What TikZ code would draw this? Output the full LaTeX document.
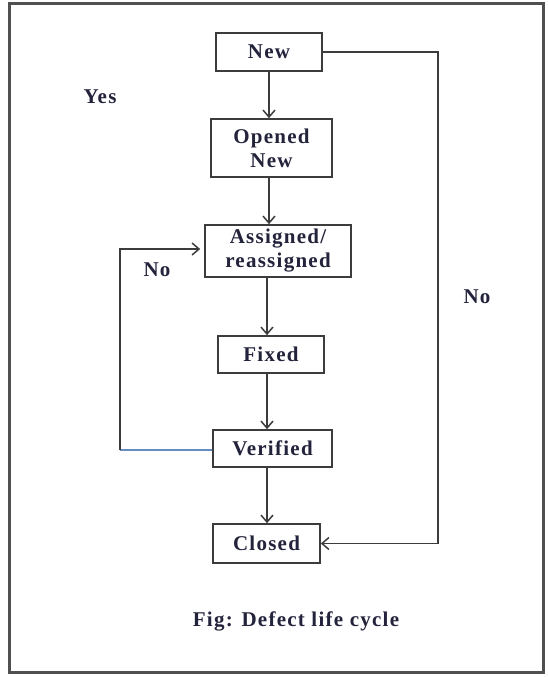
\documentclass[tikz,border=0pt]{standalone}
\usepackage{fontspec}
\setmainfont{Liberation Serif}
\newfontfamily\cyclefont[LetterSpace=6]{Liberation Serif}
\usepackage{tikz}
\usetikzlibrary{calc,positioning,arrows.meta}
\definecolor{framegray}{RGB}{80,80,80}
\definecolor{linegray}{RGB}{60,60,60}
\definecolor{loopblue}{RGB}{100,140,190}
\definecolor{labelnavy}{RGB}{35,35,60}

\tikzset{
  stage/.style={draw=linegray, line width=1.6pt, fill=white, align=center,
    font=\cyclefont\bfseries\fontsize{21}{24}\selectfont, text=labelnavy, inner sep=0pt},
  flow/.style={draw=linegray, line width=1.5pt, -{Straight Barb[length=7pt,width=12pt]}},
  tag/.style={font=\cyclefont\bfseries\fontsize{21}{24}\selectfont, text=labelnavy}
}

\begin{document}
\begin{tikzpicture}[x=1pt,y=-1pt]
    \useasboundingbox (0,0) rectangle (547,677);
    % Draw outer frame
    \draw[line width=3pt, framegray] (9,4) rectangle (543,672);

    % Draw stages
    \node[stage, minimum width=106pt, minimum height=38pt] (new) at (269,52) {New};
    \node[stage, minimum width=121pt, minimum height=58pt] (opened) at (271.5,148) {Opened\\New};
    \node[stage, minimum width=146pt, minimum height=52pt] (assigned) at (278,251) {Assigned/\\reassigned};
    \node[stage, minimum width=106pt, minimum height=37pt] (fixed) at (271,354.5) {Fixed};
    \node[stage, minimum width=119pt, minimum height=37pt] (verified) at (272.5,448.5) {Verified};
    \node[stage, minimum width=107pt, minimum height=39pt] (closed) at (266.5,543.5) {Closed};

    % Draw labels
    \node[tag] (yes) at (100,97) {Yes};
    \node[tag] (noleft) at (157,270) {No};
    \node[tag] (noright) at (477,297) {No};
    \node[tag] (caption) at (296,621) {Fig: Defect life cycle};

    % Draw main flow
    \draw[flow] (new.south) -- (new.south |- opened.north);
    \draw[flow] (new.south |- opened.south) -- (new.south |- assigned.north);
    \draw[flow] ($(fixed.north |- assigned.south)+(-4,0)$) -- ($(fixed.north)+(-4,0)$);
    \draw[flow] ($(fixed.south)+(-4,0)$) -- ($(fixed.south |- verified.north)+(-4,0)$);
    \draw[flow] ($(closed.north |- verified.south)+(0.5,0)$) -- ($(closed.north)+(0.5,0)$);

    % Draw loops
    \coordinate (rcorner) at (438,52);
    \draw[flow] (new.east) -- (rcorner) |- (closed.east);
    \coordinate (lcorner) at (120,450);
    \draw[loopblue, line width=1.2pt] (verified.west |- lcorner) -- (lcorner);
    \draw[flow] (lcorner) |- ($(assigned.west)+(-4,-2)$);
\end{tikzpicture}
\end{document}
